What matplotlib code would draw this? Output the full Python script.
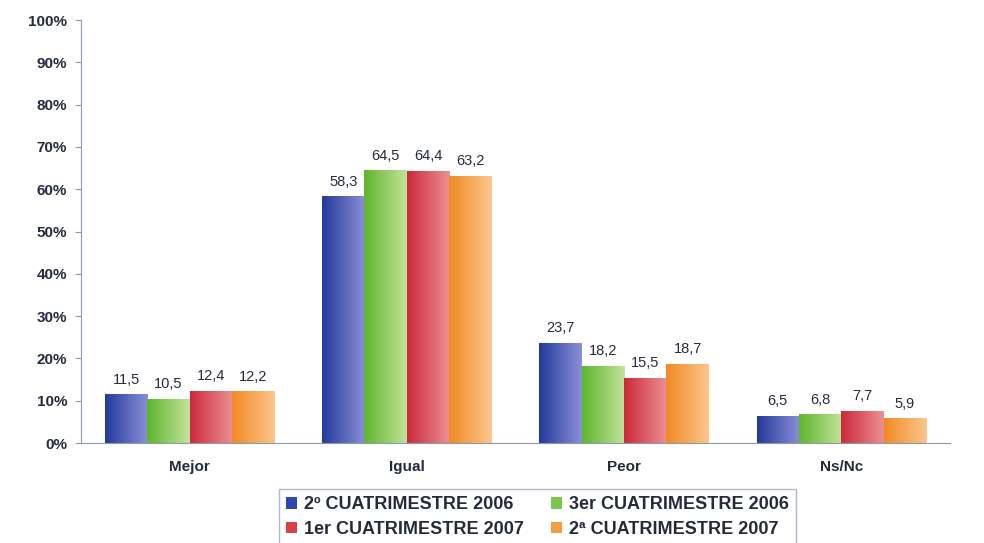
import numpy as np
import matplotlib
matplotlib.use("Agg")
import matplotlib.pyplot as plt
from matplotlib.colors import LinearSegmentedColormap
from matplotlib.patches import Patch

plt.rcParams["font.family"] = ["Liberation Sans", "DejaVu Sans"]

categories = ["Mejor", "Igual", "Peor", "Ns/Nc"]
series_names = ["2º CUATRIMESTRE 2006", "3er CUATRIMESTRE 2006",
                "1er CUATRIMESTRE 2007", "2ª CUATRIMESTRE 2007"]
s_2c2006 = [11.5, 58.3, 23.7, 6.5]
s_3c2006 = [10.5, 64.5, 18.2, 6.8]
s_1c2007 = [12.4, 64.4, 15.5, 7.7]
s_2c2007 = [12.2, 63.2, 18.7, 5.9]
series = [s_2c2006, s_3c2006, s_1c2007, s_2c2007]

# dark -> light gradient per series
grads = [("#243a9c", "#8a8fd6"),
         ("#5fb52e", "#c2e39a"),
         ("#cc2a3a", "#eb8f95"),
         ("#f08a25", "#fcc68c")]
solid = ["#2f46b0", "#7cc64a", "#d8404c", "#f59d45"]
text_color = "#252b3d"

fig = plt.figure(figsize=(9.84, 5.43), dpi=100)
ax = fig.add_axes([0.0823, 0.184, 0.8831, 0.779])

x = np.arange(len(categories))
bw = 0.195
offsets = (np.arange(4) - 1.5) * bw

for si, vals in enumerate(series):
    cmap = LinearSegmentedColormap.from_list("g%d" % si, grads[si])
    bars = ax.bar(x + offsets[si], vals, width=bw, color="none", edgecolor="none")
    for b, v in zip(bars, vals):
        x0, w = b.get_x(), b.get_width()
        img = ax.imshow(np.linspace(0, 1, 64).reshape(1, -1), cmap=cmap,
                        extent=[x0, x0 + w, 0, v], aspect="auto",
                        interpolation="bicubic", zorder=2)
        img.set_clip_path(b)
        ax.text(x0 + w / 2, v + 1.8, f"{v:.1f}".replace(".", ","),
                ha="center", va="bottom", fontsize=10.5, color=text_color)

ax.set_xlim(-0.5, 3.5)
ax.set_ylim(0, 100)
ax.set_yticks(np.arange(0, 101, 10))
ax.set_yticklabels([f"{t}%" for t in range(0, 101, 10)],
                   fontsize=11, fontweight="bold", color=text_color)
ax.set_xticks(x)
ax.set_xticklabels(categories, fontsize=11, fontweight="bold", color=text_color)
ax.tick_params(axis="x", length=0, pad=12)
ax.tick_params(axis="y", length=4, color="#8a9ab0", pad=6)
for side in ("top", "right"):
    ax.spines[side].set_visible(False)
ax.spines["left"].set_color("#8a9ab0")
ax.spines["bottom"].set_color("#8a9ab0")

# legend filled row by row
order = [0, 2, 1, 3]
handles = [Patch(facecolor=solid[i]) for i in order]
labels = [series_names[i] for i in order]
leg = fig.legend(handles, labels, loc="lower center", bbox_to_anchor=(0.546, -0.02),
                 ncol=2, frameon=True, fancybox=False, edgecolor="#9aa8c0",
                 handlelength=0.6, handleheight=0.6, handletextpad=0.4,
                 columnspacing=1.5, borderpad=0.4, labelspacing=0.4,
                 prop={"family": ["Liberation Sans", "DejaVu Sans"],
                       "weight": "bold", "size": 13})
for t in leg.get_texts():
    t.set_color(text_color)

fig.savefig("out.png", dpi=100)
